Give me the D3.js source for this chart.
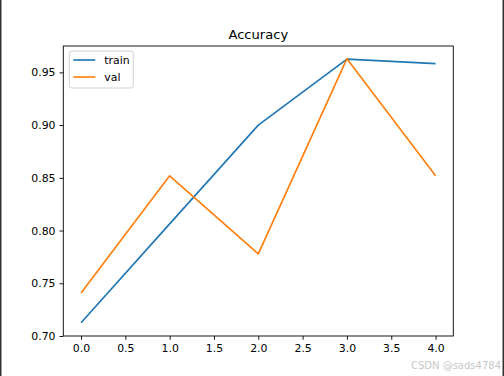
<!DOCTYPE html>
<html>
<head>
<meta charset="utf-8">
<script src="https://cdn.jsdelivr.net/npm/d3@7"></script>
<style>
  body { margin: 0; background: #fff; }
  svg { display: block; font-family: "DejaVu Sans", sans-serif; }
</style>
</head>
<body>
<div id="chart"></div>
<script>
// epochs and accuracy values
var epochs = [0, 1, 2, 3, 4];
var trainAcc = [0.7125, 0.8063, 0.9, 0.9625, 0.9583];
var valAcc = [0.7407, 0.8519, 0.7778, 0.963, 0.8519];
var xTicks = [0, 0.5, 1, 1.5, 2, 2.5, 3, 3.5, 4];
var yTicks = [0.70, 0.75, 0.80, 0.85, 0.90, 0.95];
var seriesNames = ["train", "val"];
var colors = ["#1f77b4", "#ff7f0e"];

var W = 504, H = 376;
var margin = { top: 46, right: 50.7, bottom: 40, left: 63.3 },
    width = W - margin.left - margin.right,
    height = H - margin.top - margin.bottom;

var svg = d3.select("#chart")
  .append("svg")
  .attr("width", W)
  .attr("height", H);

// page frame edges on left and right
svg.append("rect").attr("x", 0).attr("y", 0).attr("width", 1.5).attr("height", H).attr("fill", "#333");
svg.append("rect").attr("x", W - 1.5).attr("y", 0).attr("width", 1.5).attr("height", H).attr("fill", "#333");

var g = svg.append("g")
  .attr("transform", "translate(" + margin.left + "," + margin.top + ")");

var x = d3.scaleLinear().domain([-0.2, 4.2]).range([0, width]);
var y = d3.scaleLinear().domain([0.70, 0.975]).range([height, 0]);

var xAxis = g.append("g")
  .attr("transform", "translate(0," + height + ")")
  .call(d3.axisBottom(x).tickValues(xTicks).tickFormat(d3.format(".1f")).tickSize(3.8).tickPadding(4));

var yAxis = g.append("g")
  .call(d3.axisLeft(y).tickValues(yTicks).tickFormat(d3.format(".2f")).tickSize(3.8).tickPadding(4));

[xAxis, yAxis].forEach(function (a) {
  a.select(".domain").remove();
  a.selectAll(".tick line").attr("stroke", "#000").attr("stroke-width", 0.9);
  a.selectAll(".tick text").attr("fill", "#000").style("font-size", "10.9px").style("font-family", "DejaVu Sans");
});

var line = d3.line()
  .x(function (d, i) { return x(epochs[i]); })
  .y(function (d) { return y(d); });

[trainAcc, valAcc].forEach(function (s, i) {
  g.append("path")
    .datum(s)
    .attr("fill", "none")
    .attr("stroke", colors[i])
    .attr("stroke-width", 1.65)
    .attr("stroke-linejoin", "round")
    .attr("d", line);
});

// spines
g.append("rect")
  .attr("width", width)
  .attr("height", height)
  .attr("fill", "none")
  .attr("stroke", "#000")
  .attr("stroke-width", 0.9);

// title
g.append("text")
  .attr("x", width / 2)
  .attr("y", -7)
  .attr("text-anchor", "middle")
  .style("font-size", "13.1px")
  .text("Accuracy");

// legend
var legend = g.append("g").attr("transform", "translate(6,5)");
legend.append("rect")
  .attr("width", 64)
  .attr("height", 37)
  .attr("rx", 2.5)
  .attr("fill", "#fff")
  .attr("fill-opacity", 0.8)
  .attr("stroke", "#ccc")
  .attr("stroke-width", 0.9);

seriesNames.forEach(function (name, i) {
  var ly = 9 + i * 17;
  legend.append("line")
    .attr("x1", 4).attr("x2", 26)
    .attr("y1", ly).attr("y2", ly)
    .attr("stroke", colors[i])
    .attr("stroke-width", 1.65);
  legend.append("text")
    .attr("x", 35)
    .attr("y", ly + 4)
    .style("font-size", "10.9px")
    .text(name);
});

// watermark
svg.append("text")
  .attr("x", W - 3)
  .attr("y", 369)
  .attr("text-anchor", "end")
  .attr("fill", "#c8c8c8")
  .style("font-size", "10px")
  .text("CSDN @sads4784");
</script>
</body>
</html>
